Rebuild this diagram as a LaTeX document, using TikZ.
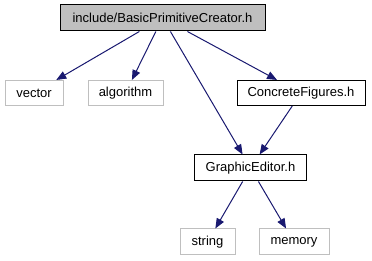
\documentclass[tikz,border=0pt]{standalone}
\usepackage{fontspec}
\setmainfont{Liberation Sans}
\usetikzlibrary{arrows.meta}
\definecolor{edgeblue}{HTML}{191970}
\definecolor{boxgray}{HTML}{BFBFBF}

\begin{document}
\begin{tikzpicture}[x=1pt,y=-1pt,
    hdr/.style={draw=black,line width=1pt,inner sep=0pt,minimum height=25pt,
      font=\fontsize{13}{15}\selectfont},
    sys/.style={hdr,draw=boxgray},
    dep/.style={edgeblue,line width=1pt,-{Triangle[length=10pt,width=8pt]}}]
    \useasboundingbox (0,0) rectangle (372,261);
    % Header being documented
    \node[hdr,fill=boxgray,minimum width=205pt,minimum height=26pt] (creator) at (162.5,18) {include/BasicPrimitiveCreator.h};
    % System headers
    \node[sys,minimum width=58pt] (vector) at (34,93) {vector};
    \node[sys,minimum width=75pt] (algorithm) at (125.5,93) {algorithm};
    \node[sys,minimum width=55pt,minimum height=26pt] (string) at (207.5,242) {string};
    \node[sys,minimum width=70pt,minimum height=26pt] (memory) at (294,242) {memory};
    % Project headers
    \node[hdr,minimum width=128pt] (figures) at (301,93) {ConcreteFigures.h};
    \node[hdr,minimum width=112pt,minimum height=26pt] (editor) at (250.5,168) {GraphicEditor.h};
    % Include edges
    \draw[dep] (creator) -- (vector);
    \draw[dep] (creator) -- (algorithm);
    \draw[dep] (creator) -- (editor);
    \draw[dep] (creator) -- (figures);
    \draw[dep] (figures) -- (editor);
    \draw[dep] (editor) -- (string);
    \draw[dep] (editor) -- (memory);
\end{tikzpicture}
\end{document}
